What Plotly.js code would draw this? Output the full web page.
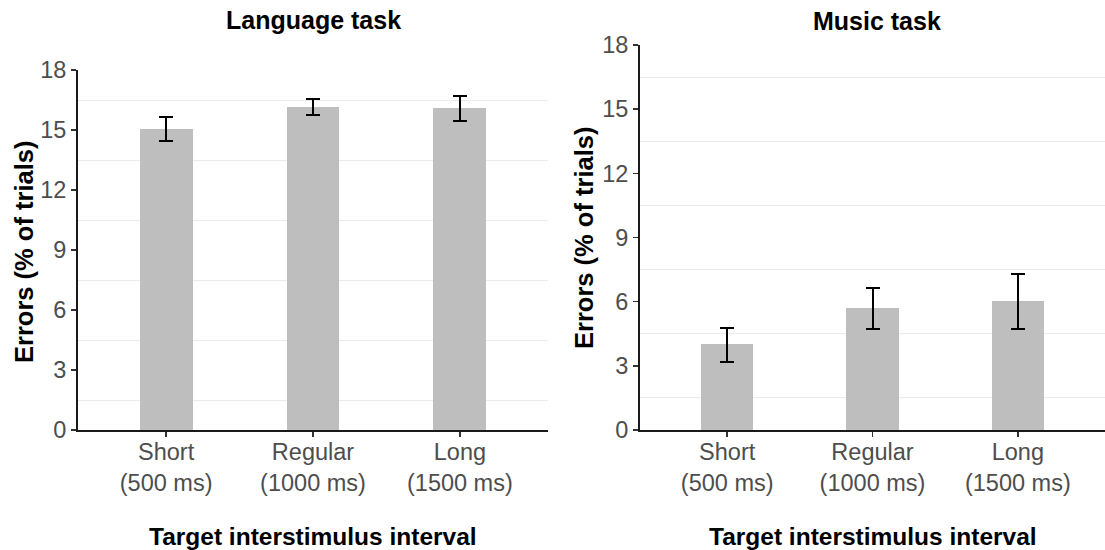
<!DOCTYPE html>
<html>
<head>
<meta charset="utf-8">
<script src="https://cdn.plot.ly/plotly-3.0.1.min.js"></script>
<style>html,body{margin:0;padding:0;background:#fff;}#chart{width:1105px;height:550px;}</style>
</head>
<body>
<div id="chart"></div>
<script>
const categories = ["Short<br>(500 ms)", "Regular<br>(1000 ms)", "Long<br>(1500 ms)"];
const languageMean = [15.06, 16.17, 16.10];
const languageUpper = [15.66, 16.56, 16.71];
const languageLower = [14.45, 15.77, 15.47];
const musicMean = [4.00, 5.72, 6.03];
const musicUpper = [4.78, 6.62, 7.28];
const musicLower = [3.16, 4.71, 4.72];
const yTickVals = [0, 3, 6, 9, 12, 15, 18];
const panelTitles = ["Language task", "Music task"];
const xTitle = "Target interstimulus interval";
const yTitle = "Errors (% of trials)";

const FONT = "Liberation Sans, Arial, sans-serif";
const barColor = "#bebebe";

function barTrace(means, upper, lower, xa, ya) {
  return {
    type: "bar", x: categories, y: means, xaxis: xa, yaxis: ya,
    marker: {color: barColor, line: {width: 0}},
    width: 0.36,
    error_y: {
      type: "data", symmetric: false,
      array: upper.map((u, i) => u - means[i]),
      arrayminus: lower.map((l, i) => means[i] - l),
      color: "#000", thickness: 2, width: 7
    },
    hoverinfo: "skip", showlegend: false
  };
}

const xBase = {
  type: "category", range: [-0.6, 2.6], showline: true, linecolor: "#1a1a1a", linewidth: 2,
  ticks: "outside", ticklen: 5, tickwidth: 1.5, tickcolor: "#333",
  showgrid: false, zeroline: false, ticklabelstandoff: -5,
  tickfont: {family: FONT, size: 23.5, color: "#4d4d4d"}, fixedrange: true
};
const yBase = {
  range: [0, 18], tickvals: yTickVals, showline: true, linecolor: "#1a1a1a", linewidth: 2,
  ticks: "outside", ticklen: 5, tickwidth: 1.5, tickcolor: "#333",
  showgrid: false, zeroline: false,
  minor: {tick0: 1.5, dtick: 3, showgrid: true, gridcolor: "#ebebeb", gridwidth: 1, ticks: ""},
  tickfont: {family: FONT, size: 23.5, color: "#4d4d4d"}, fixedrange: true
};

const W = 1105, H = 550;
const layout = {
  width: W, height: H,
  margin: {l: 0, r: 0, t: 0, b: 0},
  paper_bgcolor: "#fff", plot_bgcolor: "#fff",
  bargap: 0,
  xaxis: Object.assign({}, xBase, {domain: [78 / W, 548 / W], anchor: "y"}),
  yaxis: Object.assign({}, yBase, {domain: [(H - 430) / H, (H - 70) / H], anchor: "x"}),
  xaxis2: Object.assign({}, xBase, {domain: [640 / W, 1.0], anchor: "y2"}),
  yaxis2: Object.assign({}, yBase, {domain: [(H - 430) / H, (H - 45) / H], anchor: "x2"}),
  annotations: [
    {text: "<b>" + panelTitles[0] + "</b>", xref: "paper", yref: "paper", x: 313 / W, y: (H - 20) / H,
     showarrow: false, font: {family: FONT, size: 25, color: "#000"}, xanchor: "center", yanchor: "middle"},
    {text: "<b>" + panelTitles[1] + "</b>", xref: "paper", yref: "paper", x: 877 / W, y: (H - 21) / H,
     showarrow: false, font: {family: FONT, size: 25, color: "#000"}, xanchor: "center", yanchor: "middle"},
    {text: "<b>" + xTitle + "</b>", xref: "paper", yref: "paper", x: 313 / W, y: (H - 536) / H,
     showarrow: false, font: {family: FONT, size: 24.5, color: "#000"}, xanchor: "center", yanchor: "middle"},
    {text: "<b>" + xTitle + "</b>", xref: "paper", yref: "paper", x: 873 / W, y: (H - 536) / H,
     showarrow: false, font: {family: FONT, size: 24.5, color: "#000"}, xanchor: "center", yanchor: "middle"},
    {text: "<b>" + yTitle + "</b>", xref: "paper", yref: "paper", x: 24 / W, y: (H - 252) / H, textangle: -90,
     showarrow: false, font: {family: FONT, size: 25.5, color: "#000"}, xanchor: "center", yanchor: "middle"},
    {text: "<b>" + yTitle + "</b>", xref: "paper", yref: "paper", x: 584 / W, y: (H - 238) / H, textangle: -90,
     showarrow: false, font: {family: FONT, size: 25.5, color: "#000"}, xanchor: "center", yanchor: "middle"}
  ]
};

Plotly.newPlot("chart", [
  barTrace(languageMean, languageUpper, languageLower, "x", "y"),
  barTrace(musicMean, musicUpper, musicLower, "x2", "y2")
], layout, {displayModeBar: false, staticPlot: true});
</script>
</body>
</html>
